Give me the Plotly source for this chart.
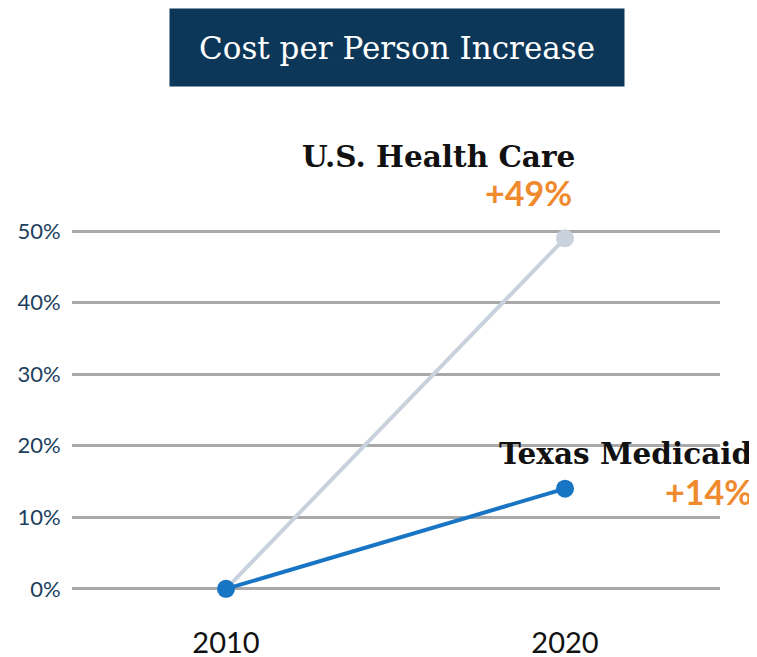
import plotly.graph_objects as go

years = [2010, 2020]
us_health_care = [0, 49]
texas_medicaid = [0, 14]
y_ticks = [0, 10, 20, 30, 40, 50]
y_tick_labels = ["0%", "10%", "20%", "30%", "40%", "50%"]
title_text = "Cost per Person Increase"
series_names = ["U.S. Health Care", "Texas Medicaid"]
series_changes = ["+49%", "+14%"]

W, H = 757, 657
OFF = 8  # page body margin
L, R = 72 - OFF, 720 - OFF
T, B = 224 - OFF, 596 - OFF

def px(x):
    return (x - OFF - L) / (R - L)

def py(y):
    return (B - (y - OFF)) / (B - T)

fig = go.Figure()
fig.add_trace(go.Scatter(
    x=years, y=us_health_care, mode="lines+markers",
    line=dict(color="#c9d1dd", width=4),
    marker=dict(color="#c9d1dd", size=18),
    cliponaxis=False, showlegend=False, hoverinfo="skip"))
fig.add_trace(go.Scatter(
    x=years, y=texas_medicaid, mode="lines+markers",
    line=dict(color="#1875c3", width=4),
    marker=dict(color="#1875c3", size=18),
    cliponaxis=False, showlegend=False, hoverinfo="skip"))

serif = "DejaVu Serif"
sans = "Lato"

annotations = [
    dict(text=title_text, xref="paper", yref="paper", x=px(397), y=py(47.5),
         xanchor="center", yanchor="middle", showarrow=False,
         width=454, height=77, bgcolor="#0c3759", borderpad=0,
         font=dict(family=serif, size=31, color="white")),
    dict(text="<b>" + series_names[0] + "</b>", xref="paper", yref="paper",
         x=px(577), y=py(157), xanchor="right", yanchor="middle", showarrow=False,
         font=dict(family=serif, size=29.5, color="#111111")),
    dict(text="<b>" + series_changes[0] + "</b>", xref="paper", yref="paper",
         x=px(574), y=py(192), xanchor="right", yanchor="middle", showarrow=False,
         font=dict(family=sans, size=34, color="#f08a2e")),
    dict(text="<b>" + series_names[1] + "</b>", xref="paper", yref="paper",
         x=px(754), y=py(453), xanchor="right", yanchor="middle", showarrow=False,
         font=dict(family=serif, size=29.5, color="#111111")),
    dict(text="<b>" + series_changes[1] + "</b>", xref="paper", yref="paper",
         x=px(754), y=py(491), xanchor="right", yanchor="middle", showarrow=False,
         font=dict(family=sans, size=34, color="#f08a2e")),
]

fig.update_layout(
    width=W, height=H,
    margin=dict(l=L, r=W - R, t=T, b=H - B, pad=0, autoexpand=False),
    plot_bgcolor="white", paper_bgcolor="white",
    annotations=annotations,
    xaxis=dict(range=[2005.457, 2024.572], tickvals=years, ticktext=[str(y) for y in years],
               showgrid=False, zeroline=False, showline=False, automargin=False,
               ticks="outside", ticklen=21, tickcolor="rgba(0,0,0,0)",
               tickfont=dict(family=sans, size=29, color="#111111")),
    yaxis=dict(range=[-1, 51], tickvals=y_ticks, ticktext=y_tick_labels,
               showgrid=True, gridcolor="#a9a9a9", gridwidth=3,
               zeroline=False, showline=False, automargin=False,
               ticks="outside", ticklen=6, tickcolor="rgba(0,0,0,0)",
               tickfont=dict(family=sans, size=22, color="#1c3f5e")),
)

fig.write_html("out.html")
